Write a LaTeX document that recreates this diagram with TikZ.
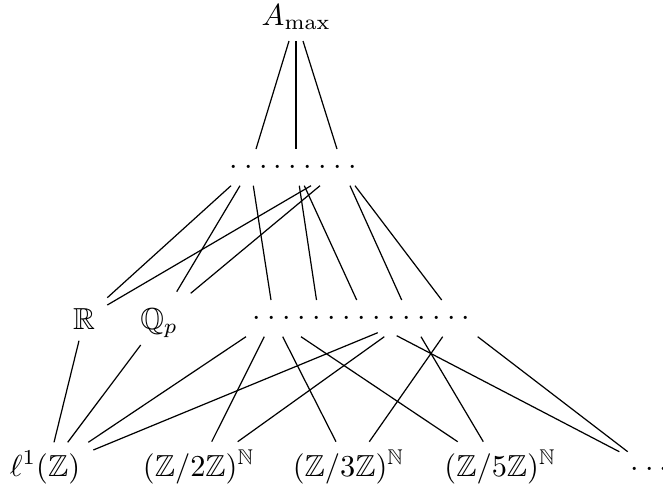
\documentclass[tikz,border=0pt]{standalone}
\usepackage{amssymb}
\newcommand{\dotrow}[1]{\foreach \k in {1,...,#1}{\ifnum\k>1\relax\kern2.15pt\fi$\cdot$}}
\tikzset{
  lab/.style={inner sep=0pt, outer sep=0pt, anchor=base},
  link/.style={line width=0.4pt},
}
\begin{document}
\begin{tikzpicture}[x=0.3289pt, y=-0.3289pt]
\useasboundingbox (0,0) rectangle (663,492);
% nodes
\node[lab] (amax) at (296.3,25) {$A_{\max}$};
\node[lab] (top)  at (293.3,174.6) {\dotrow{9}};
\node[lab] (R)    at (84.2,329.3) {$\mathbb{R}$};
\node[lab] (Qp)   at (159.2,329.3) {$\mathbb{Q}_p$};
\node[lab] (mid)  at (361.7,325.3) {\dotrow{15}};
\node[lab] (l1)   at (45,476) {$\ell^1(\mathbb{Z})$};
\node[lab] (z2)   at (198.7,476) {$(\mathbb{Z}/2\mathbb{Z})^{\mathbb{N}}$};
\node[lab] (z3)   at (348.5,476) {$(\mathbb{Z}/3\mathbb{Z})^{\mathbb{N}}$};
\node[lab] (z5)   at (500.2,476) {$(\mathbb{Z}/5\mathbb{Z})^{\mathbb{N}}$};
\node[lab] (more) at (649.3,476) {\dotrow{3}};
% connector ends
\coordinate (t1a) at (289,41);   \coordinate (t1b) at (256,149);
\coordinate (t2a) at (296,41);   \coordinate (t2b) at (296,149);
\coordinate (t3a) at (303,41);   \coordinate (t3b) at (337,149);
\coordinate (a1a) at (231,185.7);   \coordinate (a1b) at (107.3,297.7);
\coordinate (a2a) at (240,185.7);   \coordinate (a2b) at (176.7,291.7);
\coordinate (a3a) at (253.3,185.7); \coordinate (a3b) at (271,300);
\coordinate (a4a) at (311,185.7);   \coordinate (a4b) at (107.3,305);
\coordinate (a5a) at (320,185.7);   \coordinate (a5b) at (190.7,293.3);
\coordinate (a6a) at (299.3,185.7); \coordinate (a6b) at (316.5,300);
\coordinate (a7a) at (304.3,185.7); \coordinate (a7b) at (356.7,300);
\coordinate (a8a) at (350,185.7);   \coordinate (a8b) at (401.7,300);
\coordinate (a9a) at (355,185.7);   \coordinate (a9b) at (441.7,300);
\coordinate (b1a) at (246,336.7);   \coordinate (b1b) at (88.3,442.3);
\coordinate (b2a) at (264.3,336.7); \coordinate (b2b) at (211.7,441.7);
\coordinate (b3a) at (282.7,336.7); \coordinate (b3b) at (336,441.7);
\coordinate (b4a) at (301,336.7);   \coordinate (b4b) at (457.7,441.7);
\coordinate (b5a) at (377.7,332.7); \coordinate (b5b) at (93.3,450);
\coordinate (b6a) at (384.3,336.7); \coordinate (b6b) at (237.7,441.7);
\coordinate (b7a) at (396.7,335.7); \coordinate (b7b) at (619.3,451.7);
\coordinate (b8a) at (421,336.7);   \coordinate (b8b) at (483.3,441.7);
\coordinate (b9a) at (442.7,336.7); \coordinate (b9b) at (369.3,441.7);
\coordinate (b10a) at (477.7,336.7); \coordinate (b10b) at (627.7,451.7);
\coordinate (ra) at (79,340.7);     \coordinate (rb) at (54,442.3);
\coordinate (qa) at (140.7,345);    \coordinate (qb) at (67.7,442.3);
% connectors
\foreach \e in {t1,t2,t3,a1,a2,a3,a4,a5,a6,a7,a8,a9,b1,b2,b3,b4,b5,b6,b7,b8,b9,b10}
  \draw[link] (\e a) -- (\e b);
\draw[link] (ra) -- (rb);
\draw[link] (qa) -- (qb);
\end{tikzpicture}
\end{document}
